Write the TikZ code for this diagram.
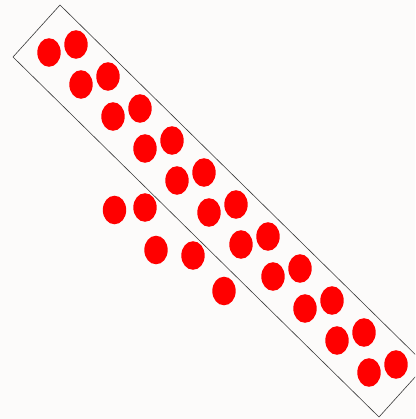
\documentclass[tikz,border=0pt]{standalone}
\definecolor{dotred}{HTML}{FF0000}
\definecolor{paper}{HTML}{FCFBFA}
\definecolor{edgegray}{HTML}{3A3A3A}
\begin{document}
\begin{tikzpicture}[x=1pt,y=-1pt,
  reddot/.style={fill=dotred},
  boxline/.style={draw=edgegray,line width=0.6pt}]

  % Page and frame
  \fill[paper] (0,0) rectangle (415,419);
  \useasboundingbox (0,0) rectangle (415,419);
  \clip (0,0) rectangle (415,419);

  % Tilted box
  \draw[boxline] (60,5) -- (426,365) -- (379,417) -- (13,57) -- cycle;

  % Pairs inside the box
  \foreach \k in {0,...,10} {
    \fill[reddot] (49+32*\k,52.5+32*\k) ellipse [x radius=11.7pt, y radius=14.3pt];
    \fill[reddot] (76+32*\k,44.5+32*\k) ellipse [x radius=11.7pt, y radius=14.3pt];
  }

  % Loose dots below the box
  \foreach \p in {(114.5,210),(145,207.5),(156,250),(193,255.5),(224,291)}
    \fill[reddot] \p ellipse [x radius=11.7pt, y radius=14.3pt];

\end{tikzpicture}
\end{document}
